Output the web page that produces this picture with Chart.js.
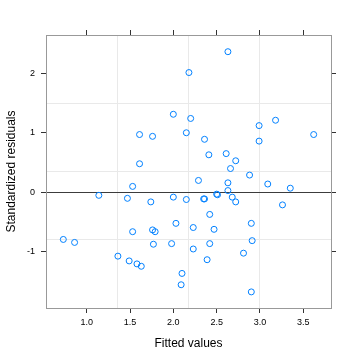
<!DOCTYPE html>
<html>
<head>
<meta charset="utf-8">
<script src="https://cdn.jsdelivr.net/npm/chart.js@4/dist/chart.umd.min.js"></script>
<style>
  html, body { margin: 0; padding: 0; background: #fff; }
</style>
</head>
<body>
<canvas id="c" width="360" height="360"></canvas>
<script>
// values
const fitted = [
  2.18, 2.63, 2.00, 2.20, 1.61, 1.76, 2.15, 1.61, 3.18, 2.99,
  2.36, 2.99, 3.62, 2.41, 2.61, 2.72, 2.66, 1.53, 1.14, 1.47,
  1.74, 2.00, 2.15, 2.03, 1.53, 1.76, 1.79, 0.73, 0.86, 1.77,
  1.98, 1.36, 1.49, 1.58, 1.63, 2.10, 2.09, 2.88, 2.29, 2.63,
  3.09, 3.35, 2.63, 2.35, 2.36, 2.50, 2.51, 2.68, 2.72, 3.26,
  2.42, 2.90, 2.23, 2.47, 2.91, 2.42, 2.23, 2.81, 2.39, 2.90
];
const resid = [
  2.01, 2.36, 1.31, 1.24, 0.97, 0.94, 1.00, 0.48, 1.21, 1.12,
  0.89, 0.86, 0.97, 0.63, 0.65, 0.53, 0.40, 0.10, -0.05, -0.10,
  -0.16, -0.08, -0.12, -0.52, -0.66, -0.63, -0.66, -0.79, -0.84, -0.87,
  -0.86, -1.07, -1.15, -1.20, -1.24, -1.36, -1.55, 0.29, 0.20, 0.16,
  0.14, 0.07, 0.03, -0.11, -0.11, -0.03, -0.04, -0.08, -0.16, -0.21,
  -0.37, -0.52, -0.59, -0.62, -0.81, -0.86, -0.95, -1.02, -1.13, -1.67
];
const xTicks = [1.0, 1.5, 2.0, 2.5, 3.0, 3.5];
const yTicks = [-1, 0, 1, 2];
const xRange = [0.53, 3.82];
const yRange = [-1.94, 2.64];

const FONT = "'Liberation Sans', Arial, Helvetica, sans-serif";
const frameColor = "#999";
const tickColor = "#333";

const fixSize = (size) => (scale) => {
  if (scale.isHorizontal()) scale.height = size;
  else scale.width = size;
};
const useTicks = (values) => (scale) => {
  scale.ticks = values.map((v) => ({ value: v }));
};
// light reference grid splits the panel in four
const quarterTicks = (scale) => {
  const step = (scale.max - scale.min) / 4;
  scale.ticks = [1, 2, 3].map((k) => ({ value: scale.min + k * step }));
};

function frameAxis(position, range, ticks, size, showLabels, extra) {
  return Object.assign({
    type: "linear",
    position: position,
    min: range[0],
    max: range[1],
    afterBuildTicks: useTicks(ticks),
    afterFit: fixSize(size),
    ticks: {
      display: showLabels,
      color: "#000",
      font: { family: FONT, size: 9 },
      padding: 4,
      autoSkip: false,
      maxRotation: 0
    },
    grid: {
      drawOnChartArea: false,
      tickLength: 5,
      tickColor: tickColor,
      tickWidth: 1
    },
    border: { color: frameColor, width: 1 }
  }, extra || {});
}

function gridAxis(position, range) {
  return {
    type: "linear",
    position: position,
    min: range[0],
    max: range[1],
    afterBuildTicks: quarterTicks,
    afterFit: fixSize(0),
    ticks: { display: false },
    grid: { color: "#e9e9e9", lineWidth: 1, drawTicks: false },
    border: { display: false }
  };
}

const xAxis = frameAxis("bottom", xRange, xTicks, 52, true, {
  title: {
    display: true,
    text: "Fitted values",
    color: "#000",
    font: { family: FONT, size: 12 },
    padding: { top: 0, bottom: 9 }
  }
});
xAxis.ticks.callback = (v) => Number(v).toFixed(1);

const yAxis = frameAxis("left", yRange, yTicks, 46, true, {
  title: {
    display: true,
    text: "Standardized residuals",
    color: "#000",
    font: { family: FONT, size: 12 },
    padding: { top: 4, bottom: 0 }
  }
});
yAxis.ticks.padding = 6;
yAxis.ticks.callback = (v) => String(v);
yAxis.grid.drawOnChartArea = true;
yAxis.grid.color = (ctx) => (ctx.tick && ctx.tick.value === 0 ? "#3c3c3c" : "rgba(0,0,0,0)");

new Chart(document.getElementById("c"), {
  type: "scatter",
  data: {
    datasets: [{
      data: fitted.map((x, i) => ({ x: x, y: resid[i] })),
      pointStyle: "circle",
      pointRadius: 3,
      pointBorderWidth: 1,
      borderColor: "#0080ff",
      backgroundColor: "rgba(0,0,0,0)"
    }]
  },
  options: {
    responsive: false,
    animation: false,
    events: [],
    layout: { padding: 0 },
    plugins: { legend: { display: false }, tooltip: { enabled: false } },
    scales: {
      xg: gridAxis("bottom", xRange),
      yg: gridAxis("left", yRange),
      x: xAxis,
      y: yAxis,
      x2: frameAxis("top", xRange, xTicks, 35, false),
      y2: frameAxis("right", yRange, yTicks, 29, false)
    }
  }
});
</script>
</body>
</html>
